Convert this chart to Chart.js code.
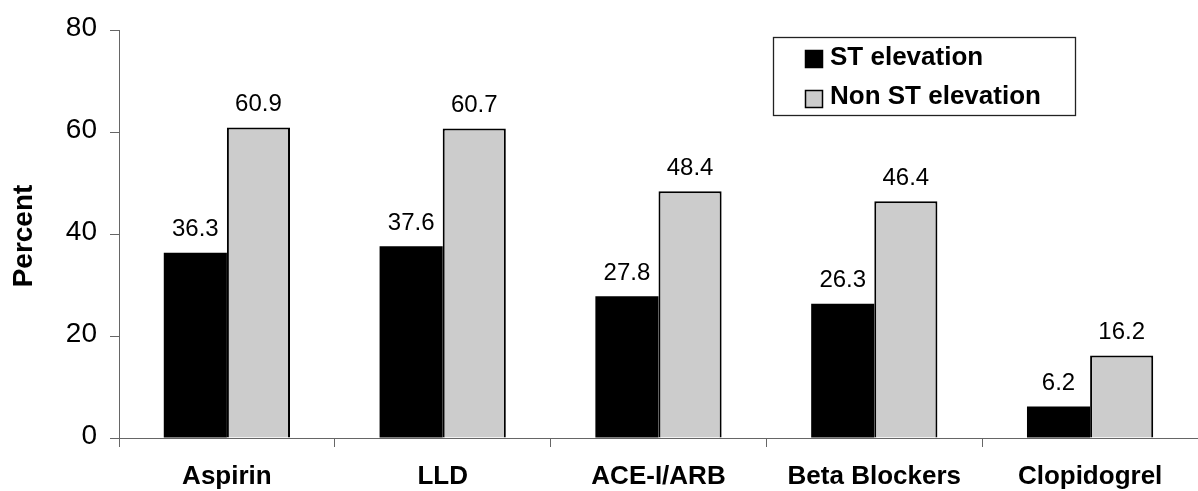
<!DOCTYPE html>
<html>
<head>
<meta charset="utf-8">
<script src="https://cdn.jsdelivr.net/npm/chart.js@4/dist/chart.umd.min.js"></script>
<style>
  html, body { margin: 0; padding: 0; background: #ffffff; }
  #wrap { width: 1198px; height: 491px; }
</style>
</head>
<body>
<div id="wrap"><canvas id="c" width="1198" height="491"></canvas></div>
<script>
const categories = ["Aspirin", "LLD", "ACE-I/ARB", "Beta Blockers", "Clopidogrel"];
const stElevation = [36.3, 37.6, 27.8, 26.3, 6.2];
const nonStElevation = [60.9, 60.7, 48.4, 46.4, 16.2];
const yTicks = [0, 20, 40, 60, 80];
const seriesNames = ["ST elevation", "Non ST elevation"];
const yTitle = "Percent";

const FONT = "'Liberation Sans', Arial, Helvetica, sans-serif";

const valueLabels = {
  id: 'valueLabels',
  afterDatasetsDraw(chart) {
    const ctx = chart.ctx;
    ctx.save();
    ctx.font = "24px " + FONT;
    ctx.fillStyle = "#000";
    ctx.textAlign = "center";
    ctx.textBaseline = "middle";
    chart.data.datasets.forEach((ds, i) => {
      const meta = chart.getDatasetMeta(i);
      meta.data.forEach((el, j) => {
        ctx.fillText(ds.data[j].toFixed(1), el.x, el.y - 23);
      });
    });
    ctx.restore();
  }
};

const boxLegend = {
  id: 'boxLegend',
  afterDraw(chart) {
    const ctx = chart.ctx;
    ctx.save();
    const bx = 773.5, by = 37.5, bw = 302, bh = 78;
    ctx.strokeStyle = "#222";
    ctx.lineWidth = 1.3;
    ctx.strokeRect(bx, by, bw, bh);
    ctx.font = "bold 26px " + FONT;
    ctx.textBaseline = "middle";
    ctx.textAlign = "left";
    const textRows = [58, 97];
    const swatchTops = [50, 90];
    chart.data.datasets.forEach((ds, i) => {
      const st = swatchTops[i];
      ctx.fillStyle = ds.backgroundColor;
      ctx.fillRect(805, st, 18, 18);
      ctx.strokeStyle = "#000";
      ctx.lineWidth = 1.5;
      ctx.strokeRect(805.5, st + 0.5, 17, 17);
      ctx.fillStyle = "#000";
      ctx.fillText(ds.label, 830, textRows[i]);
    });
    ctx.restore();
  }
};

const axisTitle = {
  id: 'axisTitle',
  afterDraw(chart) {
    const ctx = chart.ctx;
    const ca = chart.chartArea;
    ctx.save();
    ctx.translate(24, (ca.top + ca.bottom) / 2 + 2);
    ctx.rotate(-Math.PI / 2);
    ctx.font = "bold 28px " + FONT;
    ctx.fillStyle = "#000";
    ctx.textAlign = "center";
    ctx.textBaseline = "middle";
    ctx.fillText(yTitle, 0, 0);
    ctx.restore();
  }
};

new Chart(document.getElementById('c'), {
  type: 'bar',
  data: {
    labels: categories,
    datasets: [
      {
        label: seriesNames[0],
        data: stElevation,
        backgroundColor: '#000000',
        borderColor: '#000000',
        borderWidth: 0
      },
      {
        label: seriesNames[1],
        data: nonStElevation,
        backgroundColor: '#cccccc',
        borderColor: '#000000',
        borderWidth: 2
      }
    ]
  },
  options: {
    responsive: false,
    devicePixelRatio: 1,
    animation: false,
    layout: { padding: { top: 30, left: 0, right: 0, bottom: 0 } },
    datasets: { bar: { categoryPercentage: 0.585, barPercentage: 1.0 } },
    plugins: {
      legend: { display: false },
      tooltip: { enabled: false },
      title: { display: false }
    },
    scales: {
      x: {
        afterFit(scale) { scale.height = 53; },
        grid: {
          display: true,
          offset: true,
          drawOnChartArea: false,
          drawTicks: true,
          tickLength: 9,
          color: '#666',
          lineWidth: 1
        },
        border: { display: true, color: '#666', width: 1 },
        ticks: {
          color: '#000',
          font: { family: FONT, size: 26, weight: 'bold' },
          padding: 14,
          maxRotation: 0,
          autoSkip: false
        }
      },
      y: {
        min: 0,
        max: 80,
        afterFit(scale) { scale.width = 119; },
        afterBuildTicks(scale) { scale.ticks = yTicks.map(v => ({ value: v })); },
        grid: {
          display: true,
          drawOnChartArea: false,
          drawTicks: true,
          tickLength: 9,
          color: '#666',
          lineWidth: 1
        },
        border: { display: true, color: '#666', width: 1 },
        ticks: {
          color: '#000',
          font: { family: FONT, size: 28 },
          padding: 13,
          labelOffset: -2
        }
      }
    }
  },
  plugins: [valueLabels, boxLegend, axisTitle]
});
</script>
</body>
</html>
